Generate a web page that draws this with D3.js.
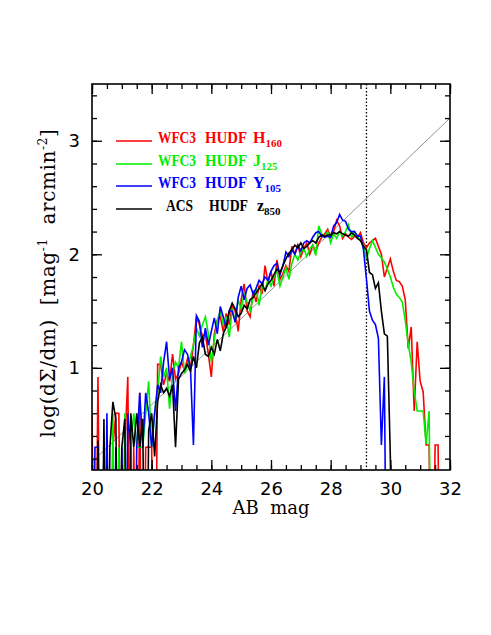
<!DOCTYPE html>
<html>
<head>
<meta charset="utf-8">
<script src="https://cdn.jsdelivr.net/npm/d3@7/dist/d3.min.js"></script>
<style>
  body { margin: 0; background: #fff; }
  svg text { font-family: "DejaVu Serif", "Liberation Serif", serif; fill: #000; }
  svg text.legend { font-family: "Liberation Serif", serif; font-weight: bold; }
</style>
</head>
<body>
<svg id="chart" width="491" height="635"></svg>
<script>
/********************* data *********************/
// magnitude bins (0.1 mag wide) starting at 20.0
var binStart = 20.0, binWidth = 0.1;

// log(dSigma/dm) per bin, null = empty bin (log of zero, falls off the plot)
var h160 = [
  0.6, null, 0.92, null, null, 0.3, null, 0.3, 0.6, 0.6,
  null, 0.3, 0.92, null, 0.3, null, 0.78, null, 0.3, 0.3,
  0.3, null, 1.03, 1.03, 0.85, 0.95, 0.88, 1.12, 0.9, 0.95,
  1.05, 0.98, 1.08, 1.0, 1.2, 1.45, 1.38, 1.28, 1.3, 1.12,
  0.92, 1.3, 1.42, 1.45, 1.32, 1.48, 1.38, 1.55, 1.5, 1.32,
  1.6, 1.74, 1.5, 1.45, 1.68, 1.58, 1.72, 1.65, 1.9, 1.75,
  1.85, 1.72, 1.95, 1.78, 1.83, 1.9, 1.85, 2.07, 2.0, 2.08,
  1.98, 2.05, 2.1, 2.0, 2.08, 2.02, 2.1, 2.15, 2.18, 2.22,
  2.15, 2.2, 2.3, 2.25, 2.14, 2.18, 2.15, 2.13, 2.16, 2.15,
  2.19, 2.1, 2.06, 2.1, 2.12, 2.14, 2.07, 2.0, 1.8, 1.88,
  1.96, 1.85, 1.77, 1.76, 1.72, 1.6, 1.17, 1.36, 0.62, 1.23,
  0.88, 0.79, 0.32, 0.32, null, 0.32, 0.32, null
];
var j125 = [
  null, null, 0.3, null, 0.3, null, null, 0.6, null, 0.3,
  null, 0.6, null, 0.3, 0.6, 0.3, 0.3, 0.3, 0.6, 0.88,
  0.3, 0.6, 0.78, 1.1, 0.92, 1.0, 0.64, 0.95, 1.05, 1.0,
  1.23, 0.95, 1.02, 1.1, 1.2, 1.35, 1.28, 1.38, 1.45, 1.3,
  1.05, 1.25, 1.42, 1.5, 1.38, 1.45, 1.27, 1.52, 1.4, 1.6,
  1.52, 1.65, 1.58, 1.5, 1.62, 1.7, 1.55, 1.72, 1.68, 1.78,
  1.72, 1.8, 1.85, 1.72, 1.8, 1.88, 1.78, 1.92, 2.0, 1.95,
  2.02, 2.05, 1.98, 2.05, 2.08, 1.99, 2.25, 2.18, 2.15, 2.2,
  2.1, 2.18, 2.14, 2.2, 2.16, 2.2, 2.26, 2.15, 2.2, 2.16,
  2.12, 2.08, 1.96, 2.05, 2.12, 2.06, 2.0, 1.97, 1.93, 1.87,
  1.8, 1.71, 1.65, 1.62, 1.58, 1.42, 1.21, 1.05, 0.8, 0.62,
  0.62, 0.62, 0.33, 0.62, null
];
var y105 = [
  null, 0.3, 0.3, null, null, 0.6, null, null, 0.3, null,
  0.3, null, 0.6, 0.3, null, 0.3, 0.78, 0.3, 0.78, 0.6,
  0.3, 0.6, 0.85, 0.78, 1.05, 1.23, 0.9, 1.0, 0.62, 1.0,
  1.05, 1.16, 1.12, 1.0, 0.32, 1.46, 1.41, 1.18, 1.35, 1.2,
  1.32, 1.44, 1.3, 1.54, 1.45, 1.35, 1.5, 1.5, 1.4, 1.62,
  1.72, 1.6, 1.7, 1.73, 1.65, 1.7, 1.77, 1.74, 1.8, 1.77,
  1.85, 1.9, 1.92, 1.82, 1.9, 2.02, 1.98, 2.04, 2.0, 2.08,
  2.03, 2.1, 2.12, 2.1, 2.15, 2.19, 2.2, 2.16, 2.15, 2.16,
  2.15, 2.25, 2.28, 2.35, 2.3, 2.29, 2.22, 2.2, 2.2, 2.16,
  2.16, 2.04, 1.78, 1.5, 1.42, 1.38, 1.26, 0.32, 0.92, null
];
var z850 = [
  null, null, 0.36, null, 0.55, null, 0.3, 0.7, 0.55, null,
  0.3, 0.55, null, 0.6, 0.3, 0.6, 0.3, 0.55, null, 0.45,
  0.6, 0.22, 0.7, 0.85, 0.78, 0.82, 0.75, 0.85, 0.3, 0.9,
  0.95, 0.98, 1.03, 0.97, 1.1, 1.0, 1.22, 1.27, 1.12, 1.1,
  1.18, 1.12, 1.25, 1.15, 1.3, 1.36, 1.5, 1.57, 1.52, 1.45,
  1.48, 1.55, 1.52, 1.6, 1.62, 1.66, 1.7, 1.74, 1.68, 1.74,
  1.77, 1.82, 1.87, 1.84, 1.9, 1.96, 2.01, 2.04, 2.08, 2.06,
  2.1, 2.05, 2.07, 2.1, 2.12, 2.1, 2.15, 2.17, 2.16, 2.17,
  2.17, 2.19, 2.18, 2.2, 2.18, 2.17, 2.16, 2.19, 2.17, 2.14,
  2.12, 2.07, 2.04, 1.84, 1.82, 1.7, 1.75, 1.5, 1.3, 1.28,
  0.22, null
];

var seriesInstr = ["WFC3", "WFC3", "WFC3", "ACS"];
var seriesBands = ["H", "J", "Y", "z"];
var seriesSubs = ["160", "125", "105", "850"];
var seriesColors = ["#ff0000", "#00ee00", "#0000ff", "#000000"];
var seriesValues = [h160, j125, y105, z850];

// straight reference line and completeness limit
var fitLine = [[20, 0.17], [32, 3.2]];
var magLimit = 29.2;

var xTicksMajor = [20, 22, 24, 26, 28, 30, 32];
var yTicksMajor = [1, 2, 3];

/********************* chart *********************/
var svg = d3.select("#chart");
var pLeft = 92, pRight = 450, pTop = 84, pBottom = 470;

var x = d3.scaleLinear().domain([20, 32]).range([pLeft, pRight]);
var y = d3.scaleLinear().domain([0.1, 3.5]).range([pBottom, pTop]);

svg.append("clipPath").attr("id", "plotclip")
  .append("rect")
  .attr("x", pLeft).attr("y", pTop)
  .attr("width", pRight - pLeft).attr("height", pBottom - pTop);

var plot = svg.append("g").attr("clip-path", "url(#plotclip)");

// reference line
plot.append("line")
  .attr("x1", x(fitLine[0][0])).attr("y1", y(fitLine[0][1]))
  .attr("x2", x(fitLine[1][0])).attr("y2", y(fitLine[1][1]))
  .attr("stroke", "#777").attr("stroke-width", 0.8);

// dotted limit
plot.append("line")
  .attr("x1", x(magLimit)).attr("x2", x(magLimit))
  .attr("y1", pTop).attr("y2", pBottom)
  .attr("stroke", "#000").attr("stroke-width", 1.3)
  .attr("stroke-dasharray", "1.5,2");

var line = d3.line()
  .x(function(d, i) { return x(binStart + i * binWidth); })
  .y(function(d) { return d == null ? y(-2) : y(d); });

seriesValues.forEach(function(vals, k) {
  plot.append("path")
    .datum(vals)
    .attr("d", line)
    .attr("fill", "none")
    .attr("stroke", seriesColors[k])
    .attr("stroke-width", 1.6)
    .attr("stroke-linejoin", "miter");
});

// axes: ticks inward on all four sides
var xMinor = d3.range(20, 32.01, 0.5), yMinor = d3.range(0.2, 3.41, 0.2);
var axB = d3.axisBottom(x).tickValues(xTicksMajor).tickSize(-10).tickPadding(12)
  .tickFormat(d3.format("d"));
var axBm = d3.axisBottom(x).tickValues(xMinor).tickSize(-5).tickFormat("");
var axT = d3.axisTop(x).tickValues(xTicksMajor).tickSize(-10).tickFormat("");
var axTm = d3.axisTop(x).tickValues(xMinor).tickSize(-5).tickFormat("");
var axL = d3.axisLeft(y).tickValues(yTicksMajor).tickSize(-10).tickPadding(12)
  .tickFormat(d3.format("d"));
var axLm = d3.axisLeft(y).tickValues(yMinor).tickSize(-5).tickFormat("");
var axR = d3.axisRight(y).tickValues(yTicksMajor).tickSize(-10).tickFormat("");
var axRm = d3.axisRight(y).tickValues(yMinor).tickSize(-5).tickFormat("");

function drawAxis(ax, tx, ty) {
  var g = svg.append("g").attr("transform", "translate(" + tx + "," + ty + ")").call(ax);
  g.select(".domain").remove();
  g.selectAll("line").attr("stroke", "#000").attr("stroke-width", 1.3);
  g.selectAll("text").attr("font-size", 18).style("font-family", "DejaVu Sans");
  return g;
}
drawAxis(axB, 0, pBottom);
drawAxis(axBm, 0, pBottom);
drawAxis(axT, 0, pTop);
drawAxis(axTm, 0, pTop);
drawAxis(axL, pLeft, 0);
drawAxis(axLm, pLeft, 0);
drawAxis(axR, pRight, 0);
drawAxis(axRm, pRight, 0);

// frame
svg.append("rect")
  .attr("x", pLeft).attr("y", pTop)
  .attr("width", pRight - pLeft).attr("height", pBottom - pTop)
  .attr("fill", "none").attr("stroke", "#000").attr("stroke-width", 1.6);

// axis titles
svg.append("text")
  .attr("x", (pLeft + pRight) / 2).attr("y", 514)
  .attr("text-anchor", "middle").attr("font-size", 18)
  .style("white-space", "pre")
  .text("AB  mag");

var yt = svg.append("text")
  .attr("transform", "translate(55,283) rotate(-90)")
  .attr("text-anchor", "middle").attr("font-size", 20)
  .attr("letter-spacing", 0.6)
  .style("white-space", "pre");
yt.append("tspan").text("log(d\u03A3/dm)  [mag");
yt.append("tspan").attr("font-size", 12).attr("dy", -8).text("-1");
yt.append("tspan").attr("dy", 8).text("  arcmin");
yt.append("tspan").attr("font-size", 12).attr("dy", -8).text("-2");
yt.append("tspan").attr("dy", 8).text("]");

// legend
var legendRows = [141, 164, 186, 209];
seriesColors.forEach(function(c, k) {
  var ly = legendRows[k];
  var acs = seriesInstr[k] == "ACS";
  svg.append("line")
    .attr("x1", 116).attr("x2", 152).attr("y1", ly).attr("y2", ly)
    .attr("stroke", c).attr("stroke-width", 1.6);
  var g = svg.append("g").attr("font-size", 16);
  g.append("text").attr("class", "legend").attr("x", acs ? 166 : 158).attr("y", ly + 1.5)
    .attr("textLength", acs ? 27 : 38).attr("lengthAdjust", "spacingAndGlyphs")
    .style("fill", c).text(seriesInstr[k]);
  g.append("text").attr("class", "legend").attr("x", acs ? 209 : 205).attr("y", ly + 1.5)
    .attr("textLength", acs ? 39 : 42).attr("lengthAdjust", "spacingAndGlyphs")
    .style("fill", c).text("HUDF");
  var b = g.append("text").attr("class", "legend").attr("x", acs ? 257 : 253).attr("y", ly + 1.5)
    .style("fill", c);
  b.append("tspan").text(seriesBands[k]);
  b.append("tspan").attr("font-size", 11).attr("dy", 4).text(seriesSubs[k]);
});
</script>
</body>
</html>
